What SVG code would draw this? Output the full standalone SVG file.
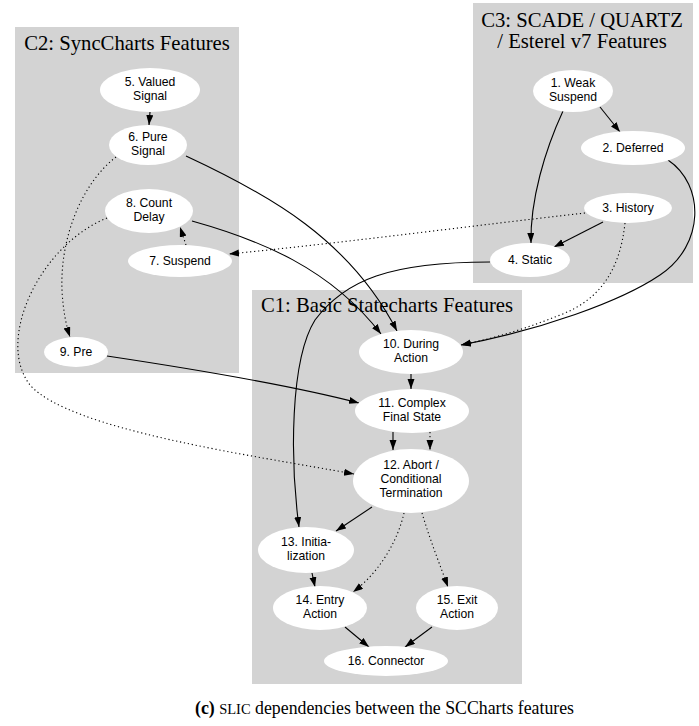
<svg xmlns="http://www.w3.org/2000/svg" width="699" height="726" viewBox="0 0 699 726">
<style>
.cl{fill:#d3d3d3;stroke:none}
.ct{font-family:"Liberation Serif","Times New Roman",serif;font-size:20.7px;fill:#000;text-anchor:middle}
.nd{fill:#fff;stroke:none}
.nt{font-family:"Liberation Sans",Arial,Helvetica,sans-serif;font-size:12.2px;fill:#000;text-anchor:middle}
.e{fill:none;stroke:#000;stroke-width:1.1;marker-end:url(#ah)}
.d{stroke-dasharray:1.2,2.8}
.cap{font-family:"Liberation Serif","Times New Roman",serif;font-size:17.8px;fill:#000}
</style>
<defs>
<marker id="ah" markerUnits="userSpaceOnUse" markerWidth="10" markerHeight="8" refX="10" refY="3.5" orient="auto">
<path d="M0,0 L10,3.5 L0,7 z" fill="#000" stroke="none"/>
</marker>
</defs>
<rect width="699" height="726" fill="#fff"/>
<g id="clusters">
<g id="C2"><rect class="cl" x="15" y="27" width="224" height="346"/><text class="ct" x="127" y="50">C2: SyncCharts Features</text></g>
<g id="C3"><rect class="cl" x="473" y="3" width="220" height="280"/><text class="ct" x="582" y="27">C3: SCADE / QUARTZ</text><text class="ct" x="582" y="48">/ Esterel v7 Features</text></g>
<g id="C1"><rect class="cl" x="252" y="290" width="270" height="394"/><text class="ct" x="387" y="312">C1: Basic Statecharts Features</text></g>
</g>
<g id="connectors">
<path class="e" d="M150,112 L149,125"/>
<path class="e d" d="M116,157 C80,185 60,240 62,290 C63,310 66,325 70,337"/>
<path class="e" d="M186,156 C270,195 350,240 397,331"/>
<path class="e" d="M192,221 C260,240 330,268 381,334"/>
<path class="e d" d="M186,245 L180,227"/>
<path class="e d" d="M585,213 C470,226 350,242 229,254"/>
<path class="e d" d="M107,218 C40,245 -5,340 30,385 C70,430 250,455 354,474"/>
<path class="e" d="M107,356 C200,370 290,385 359,403"/>
<path class="e" d="M411,374 L411,389"/>
<path class="e" d="M393,432 L393,450"/>
<path class="e d" d="M430,432 L430,450"/>
<path class="e" d="M372,507 L336,531"/>
<path class="e d" d="M404,513 C398,540 380,572 353,592"/>
<path class="e d" d="M422,513 C430,540 440,565 448,587"/>
<path class="e" d="M312,573 L315,587"/>
<path class="e" d="M345,627 L369,647"/>
<path class="e" d="M432,627 L405,647"/>
<path class="e" d="M600,107 L620,132"/>
<path class="e" d="M563,111 C545,150 530,200 531,243"/>
<path class="e" d="M603,222 L554,247"/>
<path class="e" d="M490,262 C390,262 345,280 315,320 C290,360 290,460 299,527"/>
<path class="e" d="M668,160 C705,185 705,245 660,275 C620,302 540,330 461,345"/>
<path class="e d" d="M625,223 C620,270 600,300 560,315 C530,327 500,337 461,345"/>
</g>
<g id="n1"><ellipse class="nd" cx="573" cy="91" rx="40" ry="21"/><text class="nt" x="573" y="86.5">1. Weak</text><text class="nt" x="573" y="100.5">Suspend</text></g>
<g id="n2"><ellipse class="nd" cx="633" cy="148" rx="52" ry="17"/><text class="nt" x="633" y="152">2. Deferred</text></g>
<g id="n3"><ellipse class="nd" cx="628" cy="208" rx="44" ry="15"/><text class="nt" x="628" y="212">3. History</text></g>
<g id="n4"><ellipse class="nd" cx="530" cy="260" rx="40" ry="17"/><text class="nt" x="530" y="264">4. Static</text></g>
<g id="n5"><ellipse class="nd" cx="150" cy="90" rx="50" ry="22"/><text class="nt" x="150" y="85.5">5. Valued</text><text class="nt" x="150" y="99.5">Signal</text></g>
<g id="n6"><ellipse class="nd" cx="148" cy="145" rx="39" ry="20"/><text class="nt" x="148" y="140.5">6. Pure</text><text class="nt" x="148" y="154.5">Signal</text></g>
<g id="n7"><ellipse class="nd" cx="180" cy="261" rx="52" ry="16"/><text class="nt" x="180" y="265">7. Suspend</text></g>
<g id="n8"><ellipse class="nd" cx="149" cy="211" rx="44" ry="22"/><text class="nt" x="149" y="206.5">8. Count</text><text class="nt" x="149" y="220.5">Delay</text></g>
<g id="n9"><ellipse class="nd" cx="76" cy="352" rx="32" ry="15"/><text class="nt" x="76" y="356">9. Pre</text></g>
<g id="n10"><ellipse class="nd" cx="411" cy="352" rx="52" ry="22"/><text class="nt" x="411" y="347.5">10. During</text><text class="nt" x="411" y="361.5">Action</text></g>
<g id="n11"><ellipse class="nd" cx="412" cy="411" rx="57" ry="22"/><text class="nt" x="412" y="406.5">11. Complex</text><text class="nt" x="412" y="420.5">Final State</text></g>
<g id="n12"><ellipse class="nd" cx="411" cy="481" rx="58" ry="32"/><text class="nt" x="411" y="469">12. Abort /</text><text class="nt" x="411" y="483">Conditional</text><text class="nt" x="411" y="497">Termination</text></g>
<g id="n13"><ellipse class="nd" cx="306" cy="550" rx="48" ry="23"/><text class="nt" x="306" y="545.5">13. Initia-</text><text class="nt" x="306" y="559.5">lization</text></g>
<g id="n14"><ellipse class="nd" cx="320" cy="608" rx="47" ry="22"/><text class="nt" x="320" y="603.5">14. Entry</text><text class="nt" x="320" y="617.5">Action</text></g>
<g id="n15"><ellipse class="nd" cx="457" cy="608" rx="41" ry="22"/><text class="nt" x="457" y="603.5">15. Exit</text><text class="nt" x="457" y="617.5">Action</text></g>
<g id="n16"><ellipse class="nd" cx="386" cy="661" rx="62" ry="15"/><text class="nt" x="386" y="665">16. Connector</text></g>
<text class="cap" x="195" y="714"><tspan font-weight="bold">(c)</tspan> <tspan font-size="14.5px">SLIC</tspan> dependencies between the SCCharts features</text>
</svg>
